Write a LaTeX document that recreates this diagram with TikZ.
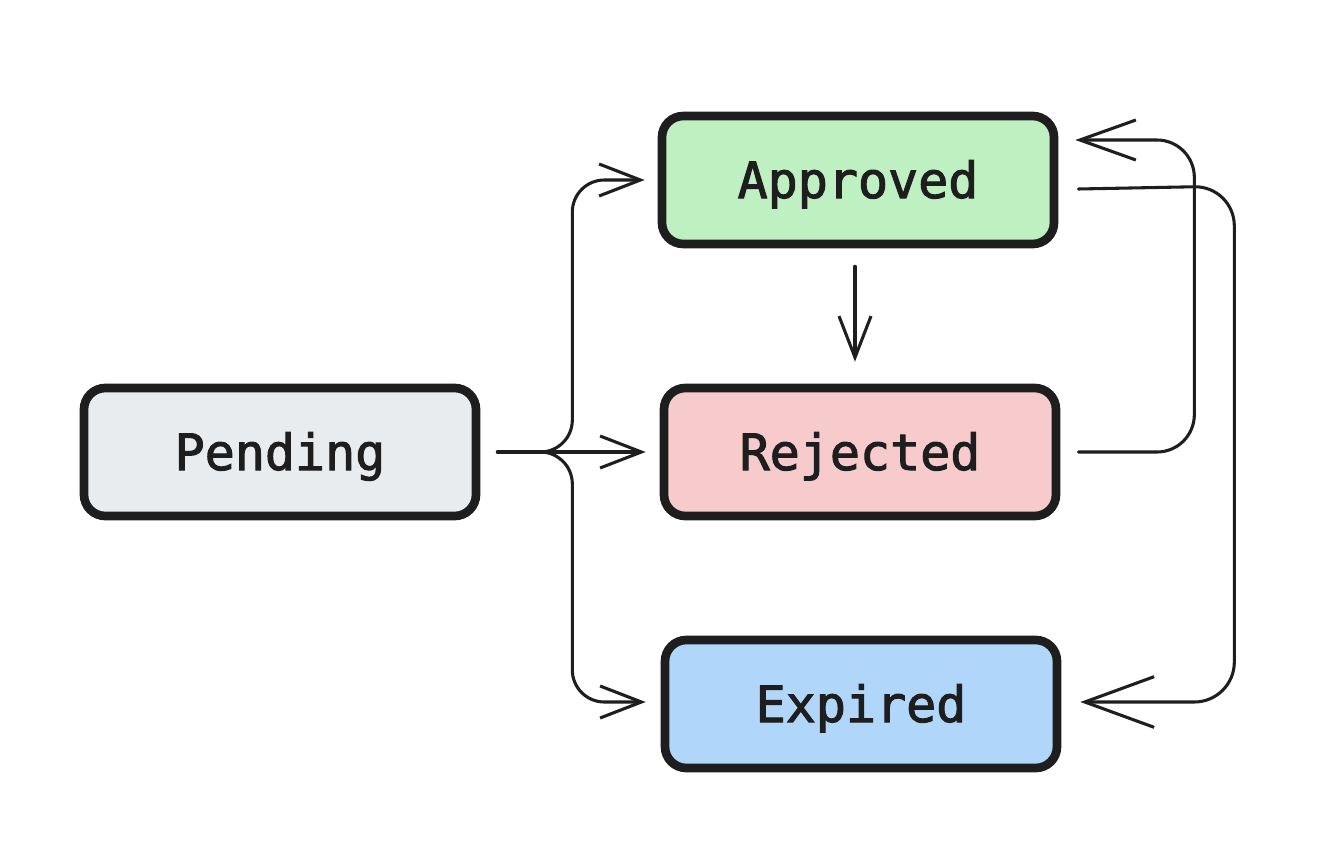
\documentclass[tikz,border=0pt]{standalone}
\usepackage{fontspec}
\newfontfamily\monofam[FakeBold=2]{DejaVu Sans Mono}
\usetikzlibrary{arrows.meta,calc}
\definecolor{ink}{HTML}{1E1E1E}
\definecolor{cgreen}{RGB}{191,240,193}
\definecolor{cred}{RGB}{247,203,203}
\definecolor{cblue}{RGB}{176,214,250}
\definecolor{cgray}{RGB}{233,236,239}
\tikzset{
  state/.style={draw=ink, line width=6.5pt, rounded corners=16pt,
    minimum width=294pt, minimum height=96pt, inner sep=0pt,
    text height=30pt, text depth=3pt,
    text=ink, font=\monofam\fontsize{37.5}{44}\selectfont},
  conn/.style={draw=ink, line width=2.3pt, line cap=round, line join=round},
  tipsmall/.style={-{Straight Barb[length=31pt,width=24pt,line width=2.3pt]}},
  tipmid/.style={-{Straight Barb[length=42pt,width=30pt,line width=2.3pt]}},
  tipbig/.style={-{Straight Barb[length=52pt,width=38pt,line width=2.3pt]}},
}
\begin{document}
\begin{tikzpicture}[x=0.75pt,y=-0.75pt]
\useasboundingbox (0,0) rectangle (1322,864);
\fill[white] (0,0) rectangle (1322,864);

\node[state, fill=cgray]  (P) at (280,452) {Pending};
\node[state, fill=cgreen] (A) at (858,180) {Approved};
\node[state, fill=cred]   (R) at (860,452) {Rejected};
\node[state, fill=cblue]  (E) at (861,704) {Expired};

\coordinate (fork) at ($(P.east)+(17,0)$);
\coordinate (bus) at ($(P.east)+(92,0)$);

% Pending -> Approved
\draw[conn, tipsmall, rounded corners=24pt] (fork) -- (bus) |- ($(A.west)+(-13,0)$);
% Pending -> Rejected
\draw[conn, tipsmall] (fork) -- ($(R.west)+(-14,0)$);
% Pending -> Expired
\draw[conn, tipsmall, rounded corners=24pt] (fork) -- (bus) |- ($(E.west)+(-15,-2)$);

% Approved -> Rejected
\draw[conn, tipsmall] ($(A.south)+(-3,18)$) -- ($(R.north)+(-5,-22)$);

% Rejected -> Approved
\draw[conn, tipmid, rounded corners=28pt] ($(R.east)+(18,0)$) -- ++(116,0) |- ($(A.east)+(17,-40)$);

% Approved -> Expired
\draw[conn, tipbig, rounded corners=30pt] ($(A.east)+(20,9)$) -- ++(156,-3) |- ($(E.east)+(19,-2)$);
\end{tikzpicture}
\end{document}
